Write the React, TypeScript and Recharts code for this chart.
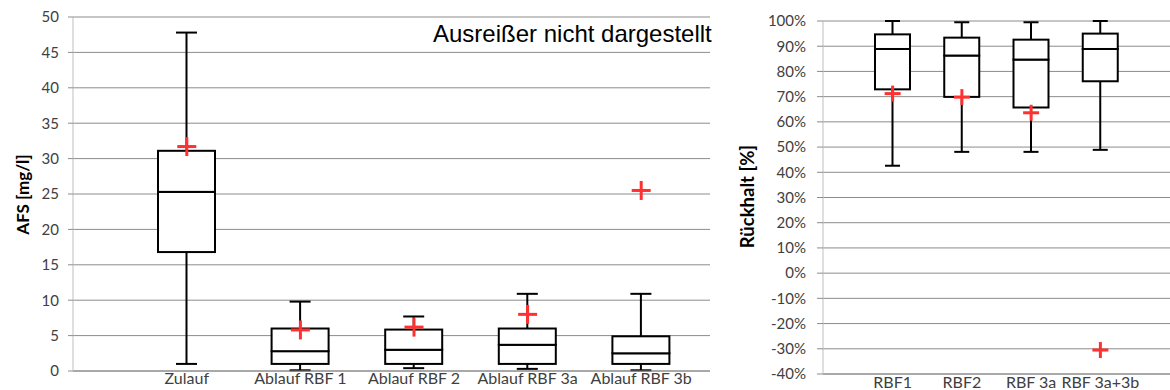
import React from 'react';
import { ComposedChart, Bar, Scatter, XAxis, YAxis, CartesianGrid } from 'recharts';

// AFS concentrations [mg/l]
const afsCategories = ['Zulauf', 'Ablauf RBF 1', 'Ablauf RBF 2', 'Ablauf RBF 3a', 'Ablauf RBF 3b'];
const afsMin = [1.0, 0.1, 0.4, 0.3, 0.1];
const afsQ1 = [16.8, 1.0, 1.0, 1.0, 1.0];
const afsMedian = [25.3, 2.8, 3.0, 3.7, 2.5];
const afsQ3 = [31.1, 6.0, 5.85, 6.0, 4.9];
const afsMax = [47.8, 9.8, 7.7, 10.9, 10.9];
const afsMean = [31.7, 5.8, 6.2, 8.0, 25.5];
const afsTicks = [0, 5, 10, 15, 20, 25, 30, 35, 40, 45, 50];

// retention [%]
const retCategories = ['RBF1', 'RBF2', 'RBF 3a', 'RBF 3a+3b'];
const retMin = [42.6, 48.1, 48.1, 48.9];
const retQ1 = [72.9, 69.9, 65.7, 76.1];
const retMedian = [88.9, 86.3, 84.7, 88.9];
const retQ3 = [94.7, 93.4, 92.6, 95.0];
const retMax = [100, 99.5, 99.5, 100];
const retMean = [71.2, 69.8, 63.6, -30.5];
const retTicks = [-40, -30, -20, -10, 0, 10, 20, 30, 40, 50, 60, 70, 80, 90, 100];

const GRID = '#8c8c8c';
const TEXT = '#404040';
const FONT = 'Lato, "Noto Sans", sans-serif';

// stacked segments: invisible base up to min, then whisker / box / box / whisker
function boxRows(names: string[], min: number[], q1: number[], med: number[], q3: number[], max: number[], mean: number[]) {
  return names.map((name, i) => ({
    name,
    base: min[i],
    lowWhisker: q1[i] - min[i],
    lowBox: med[i] - q1[i],
    highBox: q3[i] - med[i],
    highWhisker: max[i] - q3[i],
    mean: mean[i],
  }));
}

const afsData = boxRows(afsCategories, afsMin, afsQ1, afsMedian, afsQ3, afsMax, afsMean);
const retData = boxRows(retCategories, retMin, retQ1, retMedian, retQ3, retMax, retMean);

const Empty = () => <g />;

const whisker = (capW: number, capAtTop: boolean) => (props: any) => {
  const { x, y, width, height } = props;
  const cx = x + width / 2;
  const capY = capAtTop ? y : y + height;
  return (
    <g>
      <line x1={cx} x2={cx} y1={y} y2={y + height} stroke="#000" strokeWidth={2} />
      <line x1={cx - capW / 2} x2={cx + capW / 2} y1={capY} y2={capY} stroke="#000" strokeWidth={2} />
    </g>
  );
};

const BoxPart = (props: any) => {
  const { x, y, width, height } = props;
  return <rect x={x} y={y} width={width} height={height} fill="#fff" stroke="#000" strokeWidth={2} />;
};

// red "+" for the mean
const plus = (size: number) => (props: any) => {
  const { cx, cy } = props;
  const h = size / 2;
  return (
    <g>
      <line x1={cx - h} x2={cx + h} y1={cy} y2={cy} stroke="#ff3030" strokeWidth={3} />
      <line x1={cx} x2={cx} y1={cy - h} y2={cy + h} stroke="#ff3030" strokeWidth={3} />
    </g>
  );
};

export default function App() {
  return (
    <div style={{ position: 'absolute', left: 0, top: 0, width: 1170, height: 390, background: '#fff' }}>
      <div style={{ position: 'absolute', left: 0, top: 0 }}>
        <ComposedChart width={730} height={390} data={afsData} margin={{ top: 17, right: 20, bottom: 0, left: 0 }}>
          <CartesianGrid vertical={false} stroke={GRID} strokeDasharray="" />
          <XAxis
            dataKey="name"
            height={19}
            padding={{ left: 57, right: 12 }}
            axisLine={{ stroke: GRID }}
            tickLine={false}
            tickSize={0}
            tickMargin={2}
            interval={0}
            tick={{ fill: TEXT, fontSize: 16, fontFamily: FONT }}
          />
          <YAxis
            width={73}
            domain={[0, 50]}
            ticks={afsTicks}
            interval={0}
            axisLine={{ stroke: '#bfbfbf' }}
            tickLine={{ stroke: GRID }}
            tickSize={5}
            tickMargin={9}
            tick={{ fill: TEXT, fontSize: 15, fontFamily: FONT }}
          />
          <Bar dataKey="base" stackId="box" barSize={57} shape={Empty} isAnimationActive={false} />
          <Bar dataKey="lowWhisker" stackId="box" barSize={57} shape={whisker(21, false)} isAnimationActive={false} />
          <Bar dataKey="lowBox" stackId="box" barSize={57} shape={BoxPart} isAnimationActive={false} />
          <Bar dataKey="highBox" stackId="box" barSize={57} shape={BoxPart} isAnimationActive={false} />
          <Bar dataKey="highWhisker" stackId="box" barSize={57} shape={whisker(21, true)} isAnimationActive={false} />
          <Scatter dataKey="mean" shape={plus(19)} isAnimationActive={false} />
        </ComposedChart>
      </div>
      <div style={{ position: 'absolute', left: 730, top: 0 }}>
        <ComposedChart width={440} height={390} data={retData} margin={{ top: 21, right: 0, bottom: 0, left: 0 }}>
          <CartesianGrid vertical={false} stroke={GRID} strokeDasharray="" />
          <XAxis
            dataKey="name"
            height={16}
            padding={{ left: 35, right: 35 }}
            axisLine={{ stroke: GRID }}
            tickLine={false}
            tickSize={0}
            tickMargin={3}
            interval={0}
            tick={{ fill: TEXT, fontSize: 16, fontFamily: FONT }}
          />
          <YAxis
            width={93}
            domain={[-40, 100]}
            ticks={retTicks}
            interval={0}
            tickFormatter={(v: number) => `${v}%`}
            axisLine={{ stroke: '#bfbfbf' }}
            tickLine={{ stroke: GRID }}
            tickSize={6}
            tickMargin={11}
            tick={{ fill: TEXT, fontSize: 15, fontFamily: FONT }}
          />
          <Bar dataKey="base" stackId="box" barSize={35} shape={Empty} isAnimationActive={false} />
          <Bar dataKey="lowWhisker" stackId="box" barSize={35} shape={whisker(15, false)} isAnimationActive={false} />
          <Bar dataKey="lowBox" stackId="box" barSize={35} shape={BoxPart} isAnimationActive={false} />
          <Bar dataKey="highBox" stackId="box" barSize={35} shape={BoxPart} isAnimationActive={false} />
          <Bar dataKey="highWhisker" stackId="box" barSize={35} shape={whisker(15, true)} isAnimationActive={false} />
          <Scatter dataKey="mean" shape={plus(16)} isAnimationActive={false} />
        </ComposedChart>
      </div>
      <svg width={1170} height={390} style={{ position: 'absolute', left: 0, top: 0, pointerEvents: 'none' }}>
        <text x={433} y={42} fontFamily='"Liberation Sans", Arial, sans-serif' fontSize={24} fill="#000">
          Ausreißer nicht dargestellt
        </text>
        <text x={29} y={194.5} transform="rotate(-90, 29, 194.5)" textAnchor="middle" fontFamily={FONT} fontWeight="bold" fontSize={17} fill="#000">
          AFS [mg/l]
        </text>
        <text x={754} y={196.5} transform="rotate(-90, 754, 196.5)" textAnchor="middle" fontFamily={FONT} fontWeight="bold" fontSize={18.5} fill="#000">
          Rückhalt [%]
        </text>
      </svg>
    </div>
  );
}
